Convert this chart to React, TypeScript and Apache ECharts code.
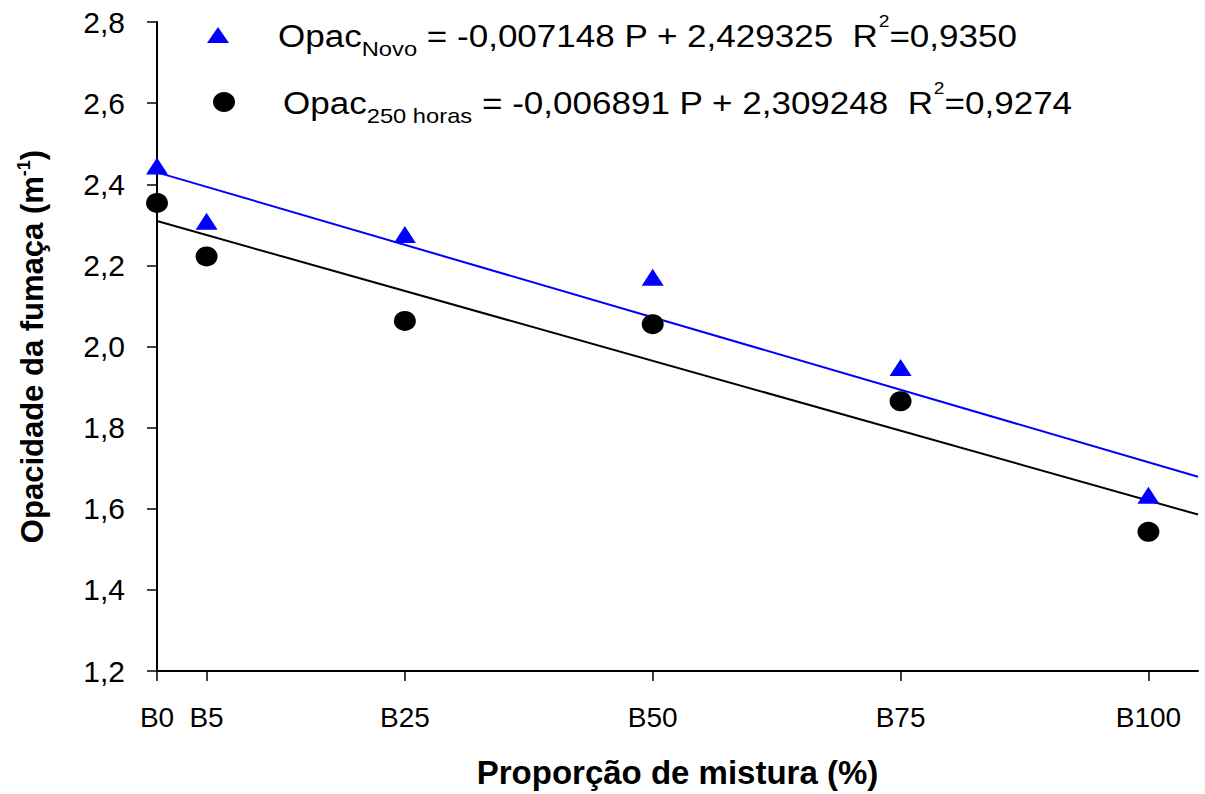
import React, { useEffect, useRef } from "react";
import * as echarts from "echarts";

const proportions = [0, 5, 25, 50, 75, 100];
const tickLabels = ["B0", "B5", "B25", "B50", "B75", "B100"];
const opacNovo = [2.445, 2.309, 2.276, 2.171, 1.948, 1.633];
const opac250 = [2.354, 2.222, 2.063, 2.055, 1.865, 1.543];
const fitNovo = [[0, 2.4293], [105, 1.6788]];
const fit250 = [[0, 2.3092], [105, 1.5857]];
const yTicks = [1.2, 1.4, 1.6, 1.8, 2.0, 2.2, 2.4, 2.6, 2.8];

const FONT = "Liberation Sans, Arial, sans-serif";

export default function App() {
  const ref = useRef<HTMLDivElement>(null);
  useEffect(() => {
    if (!ref.current) return;
    const chart = echarts.init(ref.current, null, { renderer: "svg" });
    const labelMap: Record<number, string> = {};
    proportions.forEach((p, i) => (labelMap[p] = tickLabels[i]));
    const legendRich = {
      sub: { fontFamily: FONT, fontSize: 21, fill: "#000", verticalAlign: "bottom", lineHeight: 46 },
      sup: { fontFamily: FONT, fontSize: 17, fill: "#000", verticalAlign: "top", lineHeight: 40 },
    };
    chart.setOption({
      animation: false,
      backgroundColor: "#fff",
      textStyle: { fontFamily: FONT },
      grid: { left: 157, top: 22, right: 7, bottom: 122, containLabel: false },
      xAxis: {
        type: "value",
        min: 0,
        max: 105,
        name: "Proporção de mistura (%)",
        nameLocation: "middle",
        nameGap: 85,
        nameTextStyle: { fontFamily: FONT, fontSize: 33, fontWeight: "bold", color: "#000" },
        axisLine: { show: true, lineStyle: { color: "#000", width: 2 } },
        axisTick: { show: true, length: 10, lineStyle: { color: "#000", width: 1.5 }, customValues: proportions },
        axisLabel: {
          customValues: proportions,
          formatter: (v: number) => labelMap[v] ?? "",
          fontFamily: FONT,
          fontSize: 28,
          color: "#000",
          margin: 32,
        },
        splitLine: { show: false },
      },
      yAxis: {
        type: "value",
        min: 1.2,
        max: 2.8,
        interval: 0.2,
        name: "Opacidade da fumaça (m{sup|-1})",
        nameLocation: "middle",
        nameGap: 108,
        nameRotate: 90,
        nameTextStyle: {
          fontFamily: FONT,
          fontSize: 31,
          fontWeight: "bold",
          color: "#000",
          rich: {
            sup: { fontFamily: FONT, fontSize: 18, fontWeight: "bold", color: "#000", verticalAlign: "top", lineHeight: 34 },
          },
        },
        axisLine: { show: true, lineStyle: { color: "#000", width: 2 } },
        axisTick: { show: true, length: 10, lineStyle: { color: "#000", width: 1.5 } },
        axisLabel: {
          formatter: (v: number) => {
            const m = yTicks.find((t) => Math.abs(t - v) < 1e-6);
            return (m ?? v).toFixed(1).replace(".", ",");
          },
          fontFamily: FONT,
          fontSize: 30,
          color: "#000",
          margin: 32,
        },
        splitLine: { show: false },
      },
      series: [
        {
          type: "line",
          data: fitNovo,
          symbol: "none",
          lineStyle: { color: "#0000ff", width: 2 },
          z: 1,
        },
        {
          type: "line",
          data: fit250,
          symbol: "none",
          lineStyle: { color: "#000", width: 2 },
          z: 1,
        },
        {
          type: "scatter",
          data: proportions.map((p, i) => [p, opacNovo[i]]),
          symbol: "triangle",
          symbolSize: [22, 17],
          itemStyle: { color: "#0000ff", opacity: 1 },
          z: 3,
        },
        {
          type: "scatter",
          data: proportions.map((p, i) => [p, opac250[i]]),
          symbol: "circle",
          symbolSize: [22, 20],
          itemStyle: { color: "#000", opacity: 1 },
          z: 3,
        },
      ],
      graphic: [
        {
          type: "polygon",
          shape: { points: [[218, 27], [207, 43], [229, 43]] },
          style: { fill: "#0000ff" },
        },
        {
          type: "ellipse",
          shape: { cx: 224, cy: 102, rx: 11, ry: 10 },
          style: { fill: "#000" },
        },
        {
          type: "text",
          x: 278,
          y: 36,
          scaleX: 1.13,
          style: {
            text: "Opac{sub|Novo} = -0,007148 P + 2,429325  R{sup|2}=0,9350",
            fontFamily: FONT,
            fontSize: 31,
            fill: "#000",
            verticalAlign: "middle",
            rich: legendRich,
          },
        },
        {
          type: "text",
          x: 283,
          y: 103,
          scaleX: 1.13,
          style: {
            text: "Opac{sub|250 horas} = -0,006891 P + 2,309248  R{sup|2}=0,9274",
            fontFamily: FONT,
            fontSize: 31,
            fill: "#000",
            verticalAlign: "middle",
            rich: legendRich,
          },
        },
      ],
    });
    return () => chart.dispose();
  }, []);
  return <div ref={ref} style={{ width: 1205, height: 794, position: "absolute", left: 0, top: 0 }} />;
}
